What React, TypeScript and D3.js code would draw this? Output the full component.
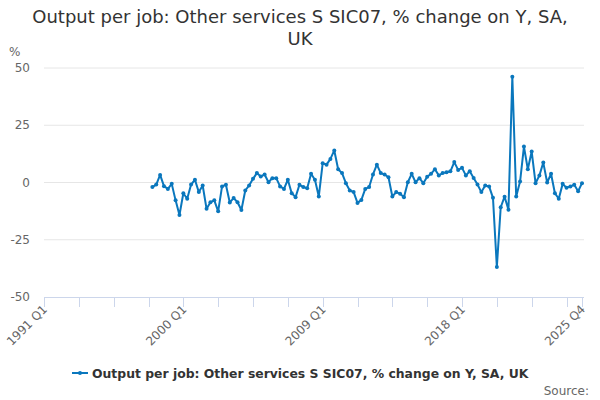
import React from "react";
import * as d3 from "d3";

const title = ["Output per job: Other services S SIC07, % change on Y, SA,", "UK"];
const seriesName = "Output per job: Other services S SIC07, % change on Y, SA, UK";
const firstYear = 1991;
const lastYear = 2025;
const dataStart = "1998 Q1";
const values = [
  -2.0, -0.9, 3.3, -1.6, -2.8, -0.6, -7.8, -14.2, -4.7, -7.1, -0.9, 1.2, -4.2, -1.3, -11.5, -8.6, -7.8, -12.6,
  -1.7, -1.0, -8.7, -6.8, -8.6, -12.0, -3.5, -1.3, 1.6, 4.1, 2.6, 3.5, 0.1, 1.9, 1.9, -1.7, -2.8, 1.2,
  -4.7, -6.4, -1.0, -2.0, -2.5, 3.8, 1.2, -6.1, 8.4, 7.8, 10.3, 14.0, 5.8, 4.1, -0.3, -3.5, -4.2, -8.9,
  -7.6, -2.8, -2.0, 3.5, 7.8, 4.1, 3.5, 2.3, -6.1, -4.2, -4.9, -6.4, 0.1, 3.8, 0.1, 1.9, -0.3, 2.5,
  3.8, 5.8, 3.1, 4.1, 4.5, 4.9, 8.9, 5.5, 6.4, 3.1, 4.9, 2.0, -0.9, -4.2, -1.3, -1.7, -6.7, -36.9,
  -10.8, -6.2, -11.9, 46.2, -6.1, 0.4, 15.7, 5.8, 13.5, -0.3, 3.1, 8.7, 0.0, 3.8, -4.7, -7.1, -0.6, -2.3,
  -1.7, -1.0, -3.8, -0.3,
];
const yTicks = [50, 25, 0, -25, -50];
const xTickLabels = ["1991 Q1", "2000 Q1", "2009 Q1", "2018 Q1", "2025 Q4"];
const tickEvery = 9;

const categories: string[] = [];
for (let y = firstYear; y <= lastYear; y++) for (let q = 1; q <= 4; q++) categories.push(`${y} Q${q}`);

const W = 600, H = 400;
const FONT = "'DejaVu Sans', sans-serif";
const BLUE = "#0a77bd";

export default function App() {
  const x = d3.scaleLinear().domain([0, categories.length - 1]).range([44, 582]);
  const y = d3.scaleLinear().domain([-50, 50]).range([297, 68]);
  const startIdx = categories.indexOf(dataStart);
  const pts = values.map((v, k) => ({ i: startIdx + k, v }));
  const line = d3.line<{ i: number; v: number }>().x(d => x(d.i)).y(d => y(d.v));

  const tickIdx: number[] = [];
  for (let i = 0; i < categories.length; i += tickEvery) tickIdx.push(i);
  if (tickIdx[tickIdx.length - 1] !== categories.length - 1) tickIdx.push(categories.length - 1);

  return (
    <svg width={W} height={H} style={{ position: "absolute", left: 0, top: 0, fontFamily: FONT }}>
      <rect width={W} height={H} fill="#fff" />
      {title.map((t, k) => (
        <text key={k} x={W / 2} y={23 + k * 22} textAnchor="middle" fontSize={18} fill="#333">{t}</text>
      ))}
      <text x={9} y={56} fontSize={12} fill="#666">%</text>
      {yTicks.map(t => (
        <g key={t}>
          {t !== -50 && <line x1={44} x2={584} y1={y(t)} y2={y(t)} stroke="#e6e6e6" />}
          <text x={30} y={y(t) + 4} textAnchor="end" fontSize={12} fill="#666">{t}</text>
        </g>
      ))}
      <line x1={44} x2={584} y1={297.5} y2={297.5} stroke="#ccd6eb" />
      {tickIdx.map(i => (
        <line key={i} x1={Math.round(x(i)) + 0.5} x2={Math.round(x(i)) + 0.5} y1={297} y2={307} stroke="#ccd6eb" />
      ))}
      {tickIdx.filter(i => xTickLabels.includes(categories[i])).map(i => (
        <text key={i} transform={`translate(${x(i) + 4},${310}) rotate(-45)`} textAnchor="end" fontSize={12} fill="#666">
          {categories[i]}
        </text>
      ))}
      <path d={line(pts) || ""} fill="none" stroke={BLUE} strokeWidth={2} strokeLinejoin="round" />
      {pts.map(p => (
        <circle key={p.i} cx={x(p.i)} cy={y(p.v)} r={2} fill={BLUE} />
      ))}
      <line x1={72} x2={88} y1={373} y2={373} stroke={BLUE} strokeWidth={2} />
      <circle cx={80} cy={373} r={2} fill={BLUE} />
      <text x={92} y={378} fontSize={12.4} fontWeight="bold" fill="#333">{seriesName}</text>
      <text x={589} y={395} textAnchor="end" fontSize={12} fill="#666">Source:</text>
    </svg>
  );
}
